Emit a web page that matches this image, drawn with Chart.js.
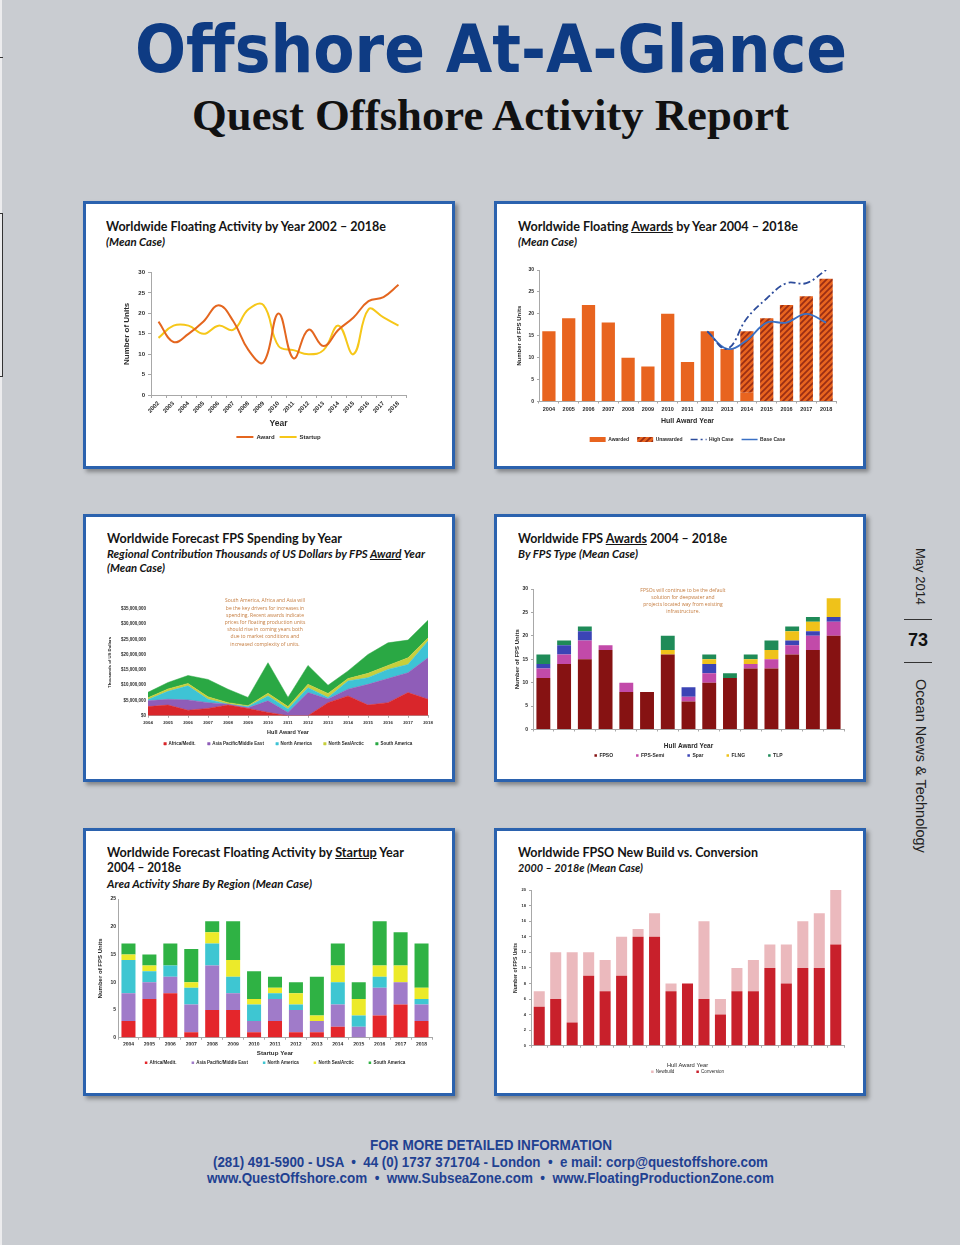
<!DOCTYPE html>
<html>
<head>
<meta charset="utf-8">
<title>Offshore At-A-Glance</title>
<script src="https://cdn.jsdelivr.net/npm/chart.js@4.4.1/dist/chart.umd.min.js"></script>
<style>
  html, body { margin: 0; padding: 0; }
  body { width: 960px; height: 1245px; position: relative; overflow: hidden; background: #c9ccd1; font-family: "Liberation Sans", Arial, sans-serif; }
  .t { position: absolute; white-space: nowrap; line-height: 1; transform-origin: 0 0; }
  .panel { position: absolute; width: 366px; height: 262px; background: #fff; border: 3px solid #2b62ae; box-shadow: 3px 3px 4px rgba(0, 0, 0, 0.35); }
  .ptitle { font-family: Lato, sans-serif; font-weight: 700; font-size: 13.5px; color: #141414; }
  .psub { font-family: Lato, sans-serif; font-weight: 700; font-style: italic; font-size: 11.5px; color: #141414; }
  .chart { position: absolute; }
  .note { position: absolute; font-family: "Open Sans", sans-serif; font-size: 5px; line-height: 7.2px; color: #c47b3d; text-align: center; white-space: nowrap; transform: translateX(-50%); }
  .foot { font-family: "Liberation Sans Narrow", "Liberation Sans", sans-serif; font-weight: bold; color: #1f4191; font-size: 14px; }
  .side { position: absolute; writing-mode: vertical-rl; white-space: nowrap; color: #222; }
  .rule { position: absolute; height: 1px; background: #333; }
</style>
</head>
<body>

<div style="position:absolute;left:0;top:0;width:2px;height:1245px;background:#ececee"></div>
<div style="position:absolute;left:0;top:57px;width:3px;height:1px;background:#333"></div>
<div style="position:absolute;left:0;top:213px;width:2px;height:162px;border:1px solid #333;border-left:none"></div>

<div class="t" data-w="712" style="left:135px;top:17px;font-family:'DejaVu Sans Condensed','DejaVu Sans',sans-serif;font-weight:bold;font-size:66px;color:#0e3b83">Offshore At-A-Glance</div>
<div class="t" data-w="597" style="left:192px;top:94px;font-family:'Liberation Serif',serif;font-weight:bold;font-size:44px;color:#111">Quest Offshore Activity Report</div>

<div class="panel" style="left:83px;top:201px"></div>
<div class="panel" style="left:494px;top:201px"></div>
<div class="panel" style="left:83px;top:514px"></div>
<div class="panel" style="left:494px;top:514px"></div>
<div class="panel" style="left:83px;top:828px"></div>
<div class="panel" style="left:494px;top:828px"></div>

<div class="t ptitle" data-w="280" style="left:106px;top:220px">Worldwide Floating Activity by Year 2002 – 2018e</div>
<div class="t psub" data-w="59" style="left:106px;top:235.5px">(Mean Case)</div>

<div class="t ptitle" data-w="280" style="left:518px;top:220px">Worldwide Floating <u>Awards</u> by Year 2004 – 2018e</div>
<div class="t psub" data-w="59" style="left:518px;top:235.5px">(Mean Case)</div>

<div class="t ptitle" data-w="235" style="left:107px;top:532.3px">Worldwide Forecast FPS Spending by Year</div>
<div class="t psub" data-w="318" style="left:107px;top:547.5px">Regional Contribution Thousands of US Dollars by FPS <u>Award</u> Year</div>
<div class="t psub" data-w="58" style="left:107px;top:561.8px">(Mean Case)</div>

<div class="t ptitle" data-w="209" style="left:518px;top:532.3px">Worldwide FPS <u>Awards</u> 2004 – 2018e</div>
<div class="t psub" data-w="120" style="left:518px;top:547.5px">By FPS Type (Mean Case)</div>

<div class="t ptitle" data-w="297" style="left:107px;top:846.3px">Worldwide Forecast Floating Activity by <u>Startup</u> Year</div>
<div class="t ptitle" data-w="74" style="left:107px;top:861.3px">2004 – 2018e</div>
<div class="t psub" data-w="205" style="left:107px;top:878.1px">Area Activity Share By Region (Mean Case)</div>

<div class="t ptitle" data-w="240" style="left:518px;top:846.3px">Worldwide FPSO New Build vs. Conversion</div>
<div class="t psub" data-w="125" style="left:518px;top:861.5px">2000 – 2018e (Mean Case)</div>

<div class="chart" style="left:112px;top:266px;width:335px;height:184px"><canvas id="floatingActivity"></canvas></div>
<div class="chart" style="left:508px;top:262px;width:346px;height:190px"><canvas id="floatingAwards"></canvas></div>
<div class="chart" style="left:100px;top:598px;width:340px;height:158px"><canvas id="fpsSpending"></canvas></div>
<div class="chart" style="left:505px;top:582px;width:352px;height:186px"><canvas id="fpsByType"></canvas></div>
<div class="chart" style="left:88px;top:892px;width:356px;height:183px"><canvas id="startupByRegion"></canvas></div>
<div class="chart" style="left:505px;top:883px;width:352px;height:201px"><canvas id="fpsoBuild"></canvas></div>

<div class="note" style="left:265px;top:597.4px">South America, Africa and Asia will<br>be the key drivers for increases in<br>spending. Recent awards indicate<br>prices for floating production units<br>should rise in coming years both<br>due to market conditions and<br>increased complexity of units.</div>
<div class="note" style="left:683px;top:586.5px">FPSOs will continue to be the default<br>solution for deepwater and<br>projects located way from existing<br>infrastructure.</div>

<div class="side" style="left:913px;top:548px;font-size:13px;line-height:14px">May 2014</div>
<div class="rule" style="left:904px;top:619px;width:28px"></div>
<div class="t" style="left:908px;top:631px;font-size:18px;font-weight:bold;color:#111">73</div>
<div class="rule" style="left:904px;top:662px;width:28px"></div>
<div class="side" style="left:912.5px;top:679px;font-size:14.5px;line-height:15px">Ocean News &amp; Technology</div>

<div class="t foot" data-w="242" style="left:370px;top:1138.2px">FOR MORE DETAILED INFORMATION</div>
<div class="t foot" data-w="555" style="left:213px;top:1155.2px">(281) 491-5900 - USA &nbsp;•&nbsp; 44 (0) 1737 371704 - London &nbsp;•&nbsp; e mail: corp@questoffshore.com</div>
<div class="t foot" data-w="567" style="left:207px;top:1171.2px">www.QuestOffshore.com &nbsp;•&nbsp; www.SubseaZone.com &nbsp;•&nbsp; www.FloatingProductionZone.com</div>

<script>
// floating activity 2002-2018e
const activityYears = ["2002", "2003", "2004", "2005", "2006", "2007", "2008", "2009", "2010", "2011", "2012", "2013", "2014", "2015", "2016", "2017", "2018"];
const awardUnits = [18, 13, 15, 18, 22, 18, 11, 8, 20, 9, 16, 12, 16, 19, 23, 24, 27];
const startupUnits = [14, 17, 17, 15, 17, 16, 21, 22, 12, 11, 10, 11, 17, 10, 21, 19, 17];

// awards 2004-2018e
const awardYears = ["2004", "2005", "2006", "2007", "2008", "2009", "2010", "2011", "2012", "2013", "2014", "2015", "2016", "2017", "2018"];
const awardedUnits = [16, 19, 22, 18, 10, 8, 20, 9, 16, 12, 2, null, null, null, null];
const unawardedUnits = [null, null, null, null, null, null, null, null, null, null, 14, 19, 22, 24, 28];
const highCaseUnits = [null, null, null, null, null, null, null, null, 16, 12, 19, 23.5, 27, 27, 30];
const baseCaseUnits = [null, null, null, null, null, null, null, null, 16, 12, 14, 18, 18, 20, 18];

// spending, millions of (thousands of US$)
const spendAfrica = [3.0, 3.5, 1.8, 2.4, 3.5, 2.4, 1.1, 0, 0, 4.3, 6.5, 3.5, 4.3, 7.6, 5.4];
const spendAsia = [1.9, 1.9, 3.4, 1.9, 0.3, 0.2, 3.8, 1.1, 7.6, 1.2, 2.2, 6.8, 7.9, 6.5, 13.6];
const spendNorthAm = [0.4, 2.6, 4.6, 1.1, 0, 0.4, 1.6, 1.1, 1.6, 0.5, 2.7, 2.2, 3.0, 2.7, 5.5];
const spendNorthSea = [0.6, 0.8, 0.8, 0.8, 0.5, 0.3, 0.9, 0.8, 1.1, 1.3, 0.8, 1.4, 1.3, 2.2, 1.0];
const spendSouthAm = [1.8, 2.1, 2.6, 5.7, 4.4, 2.7, 10.0, 3.0, 6.2, 2.7, 2.5, 6.2, 7.4, 5.8, 5.8];

// awards by FPS type
const fpsoUnits = [11, 14, 15, 17, 8, 8, 16, 6, 10, 11, 13, 13, 16, 17, 20];
const semiUnits = [2, 2, 4, 1, 2, 0, 0, 1, 2, 0, 1, 2, 2, 3, 3];
const sparUnits = [1, 2, 2, 0, 0, 0, 0, 2, 2, 0, 0, 0, 1, 1, 1];
const flngUnits = [0, 0, 0, 0, 0, 0, 1, 0, 1, 0, 1, 2, 2, 2, 4];
const tlpUnits = [2, 1, 1, 0, 0, 0, 3, 0, 1, 1, 1, 2, 1, 1, 0];

// startups by region
const startAfrica = [3, 7, 8, 1, 5, 5, 1, 3, 1, 1, 2, 0, 4, 6, 3];
const startAsia = [5, 3, 3, 5, 8, 3, 2, 4, 4, 2, 4, 2, 5, 4, 3];
const startNorthAm = [6, 2, 2, 3, 4, 3, 3, 1, 1, 0, 4, 2, 2, 0, 1];
const startNorthSea = [1, 1, 0, 1, 2, 3, 1, 1, 2, 1, 3, 3, 2, 3, 2];
const startSouthAm = [2, 2, 4, 6, 2, 7, 5, 2, 2, 7, 4, 3, 8, 6, 8];

// FPSO new build vs conversion
const fpsoYears = ["2000", "2001", "2002", "2003", "2004", "2005", "2006", "2007", "2008", "2009", "2010", "2011", "2012", "2013", "2014", "2015", "2016", "2017", "2018"];
const conversionUnits = [5, 6, 3, 9, 7, 9, 14, 14, 7, 8, 6, 4, 7, 7, 10, 8, 10, 10, 13];
const newbuildUnits = [2, 6, 9, 3, 4, 5, 1, 3, 1, 0, 10, 2, 3, 4, 3, 5, 6, 7, 7];

const REGIONS = ["Africa/Medit.", "Asia Pacific/Middle East", "North America", "North Sea/Arctic", "South America"];
const AXIS_COLOR = "#a8a8a8";

Chart.defaults.font.family = '"Liberation Sans", Arial, sans-serif';
Chart.defaults.font.weight = "bold";
Chart.defaults.color = "#2a2a2a";
Chart.defaults.animation = false;
Chart.defaults.plugins.tooltip.enabled = false;
Chart.defaults.maintainAspectRatio = false;

function yAxis(o) {
  const ticks = { stepSize: o.step, font: { size: o.size }, padding: o.pad ?? 3 };
  if (o.callback) ticks.callback = o.callback;
  return {
    stacked: o.stacked || false,
    min: 0,
    max: o.max,
    ticks,
    grid: { drawOnChartArea: false, tickLength: o.tickLength ?? 2, color: AXIS_COLOR },
    border: { color: AXIS_COLOR, display: o.line !== false },
    title: { display: true, text: o.title, font: { size: o.titleSize, weight: o.weight || "bold" }, padding: { top: o.titleGap, bottom: 0 } },
    afterFit: (scale) => { scale.width = o.width; },
  };
}

function xAxis(o) {
  return {
    stacked: o.stacked || false,
    offset: o.offset ?? true,
    ticks: { font: { size: o.size, weight: o.weight || "bold" }, padding: o.pad ?? 2, autoSkip: false, minRotation: o.rotation || 0, maxRotation: o.rotation || 0 },
    grid: { drawOnChartArea: false, offset: o.offset ?? true, tickLength: o.tickLength ?? 2, color: AXIS_COLOR },
    border: { color: AXIS_COLOR },
    title: { display: true, text: o.title, font: { size: o.titleSize, weight: o.weight || "bold" }, padding: { top: 0, bottom: o.titleGap } },
    afterFit: (scale) => { scale.height = o.height; },
  };
}

function legendBox(o) {
  return {
    position: "bottom",
    fullSize: false,
    reverse: o.reverse || false,
    labels: Object.assign({
      font: { size: o.size, weight: o.weight || "bold" },
      padding: o.pad,
      boxWidth: o.box,
      boxHeight: o.box,
      color: "#2a2a2a",
    }, o.extra || {}),
  };
}

function makeHatch(base, stripe) {
  const c = document.createElement("canvas");
  c.width = 6;
  c.height = 6;
  const g = c.getContext("2d");
  g.fillStyle = base;
  g.fillRect(0, 0, 6, 6);
  g.strokeStyle = stripe;
  g.lineWidth = 1.7;
  g.beginPath();
  g.moveTo(-1, 7); g.lineTo(7, -1);
  g.moveTo(-4, 4); g.lineTo(4, -4);
  g.moveTo(2, 10); g.lineTo(10, 2);
  g.stroke();
  return g.createPattern(c, "repeat");
}

function barSet(label, data, color) {
  return { label, data, backgroundColor: color, borderWidth: 0, categoryPercentage: 1, barPercentage: 0.67 };
}

function areaSet(label, data, color, first) {
  return {
    label,
    data: data.map((v) => v * 1e6),
    backgroundColor: color,
    borderColor: color,
    borderWidth: 0.5,
    pointRadius: 0,
    tension: 0,
    fill: first ? "origin" : "-1",
  };
}

// 1. Worldwide Floating Activity by Year
new Chart(document.getElementById("floatingActivity"), {
  type: "line",
  data: {
    labels: activityYears,
    datasets: [
      { label: "Award", data: awardUnits, borderColor: "#e4661f", backgroundColor: "#e4661f", borderWidth: 2, tension: 0.42, pointRadius: 0, pointStyle: "line" },
      { label: "Startup", data: startupUnits, borderColor: "#f6c719", backgroundColor: "#f6c719", borderWidth: 2, tension: 0.42, pointRadius: 0, pointStyle: "line" },
    ],
  },
  options: {
    layout: { padding: { top: 6, right: 41 } },
    scales: {
      x: xAxis({ height: 34, size: 6, title: "Year", titleSize: 8.5, titleGap: 0, rotation: 45, tickLength: 3 }),
      y: yAxis({ max: 30, step: 5, width: 39, size: 6, title: "Number of Units", titleSize: 8, titleGap: 10.2, tickLength: 3 }),
    },
    plugins: { legend: legendBox({ size: 6, pad: 5, box: 6, extra: { usePointStyle: true, pointStyleWidth: 17 } }) },
  },
});

// 2. Worldwide Floating Awards by Year
const hatch = makeHatch("#e8641f", "#9a2e14");
new Chart(document.getElementById("floatingAwards"), {
  type: "bar",
  data: {
    labels: awardYears,
    datasets: [
      Object.assign(barSet("Awarded", awardedUnits, "#e8641f"), { stack: "fps", order: 1 }),
      Object.assign(barSet("Unawarded", unawardedUnits, hatch), { stack: "fps", order: 1 }),
      { type: "line", label: "High Case", data: highCaseUnits, borderColor: "#2d4c9b", backgroundColor: "#2d4c9b", borderDash: [7, 3, 2, 3], borderWidth: 1.8, tension: 0.4, pointRadius: 0, stack: "high", order: 0 },
      { type: "line", label: "Base Case", data: baseCaseUnits, borderColor: "#3a70c4", backgroundColor: "#3a70c4", borderWidth: 1.8, tension: 0.4, pointRadius: 0, stack: "base", order: 0 },
    ],
  },
  options: {
    layout: { padding: { top: 8, right: 18 } },
    scales: {
      x: xAxis({ stacked: true, height: 27.5, size: 5.5, title: "Hull Award Year", titleSize: 7, titleGap: 3.3, pad: 3 }),
      y: yAxis({ stacked: true, max: 30, step: 5, width: 31, size: 5, title: "Number of FPS Units", titleSize: 6, titleGap: 7.4 }),
    },
    plugins: {
      legend: legendBox({
        size: 5, pad: 8, box: 5,
        extra: {
          usePointStyle: true,
          pointStyleWidth: 16,
          generateLabels: (chart) => chart.data.datasets.map((ds, i) => ({
            text: ds.label,
            datasetIndex: i,
            fillStyle: ds.type === "line" ? "rgba(0,0,0,0)" : ds.backgroundColor,
            strokeStyle: ds.type === "line" ? ds.borderColor : "rgba(0,0,0,0)",
            lineWidth: ds.type === "line" ? 1.5 : 0,
            lineDash: ds.borderDash || [],
            pointStyle: ds.type === "line" ? "line" : "rect",
            fontColor: "#2a2a2a",
            hidden: false,
          })),
        },
      }),
    },
  },
});

// 3. Worldwide Forecast FPS Spending by Year
new Chart(document.getElementById("fpsSpending"), {
  type: "line",
  data: {
    labels: awardYears,
    datasets: [
      areaSet(REGIONS[0], spendAfrica, "#d9262b", true),
      areaSet(REGIONS[1], spendAsia, "#8f5db8"),
      areaSet(REGIONS[2], spendNorthAm, "#3ec3d5"),
      areaSet(REGIONS[3], spendNorthSea, "#c7cf3c"),
      areaSet(REGIONS[4], spendSouthAm, "#2aa844"),
    ],
  },
  options: {
    layout: { padding: { top: 11, right: 12 } },
    scales: {
      x: xAxis({ offset: false, height: 13.75, size: 4.3, title: "Hull Award Year", titleSize: 5.5, titleGap: -6.55, pad: 2 }),
      y: yAxis({ stacked: true, max: 35e6, step: 5e6, width: 48, size: 4.5, title: "Thousands of US Dollars", titleSize: 4.3, titleGap: 7.4, tickLength: 0, pad: 2, line: false, callback: (v) => "$" + v.toLocaleString("en-US") }),
    },
    plugins: { legend: legendBox({ size: 4.5, pad: 12, box: 2.5 }) },
  },
});

// 4. Worldwide FPS Awards by FPS Type
new Chart(document.getElementById("fpsByType"), {
  type: "bar",
  data: {
    labels: awardYears,
    datasets: [
      barSet("FPSO", fpsoUnits, "#861212"),
      barSet("FPS-Semi", semiUnits, "#c24aa9"),
      barSet("Spar", sparUnits, "#3b44b5"),
      barSet("FLNG", flngUnits, "#efc21a"),
      barSet("TLP", tlpUnits, "#1f8b58"),
    ],
  },
  options: {
    layout: { padding: { top: 7, right: 13 } },
    scales: {
      x: xAxis({ stacked: true, height: 0.5, size: 5.5, title: "Hull Award Year", titleSize: 6.5, titleGap: -20.4, pad: 2 }),
      y: yAxis({ stacked: true, max: 30, step: 5, width: 28, size: 5, title: "Number of FPS Units", titleSize: 6, titleGap: 8.4 }),
    },
    plugins: { legend: legendBox({ size: 5, pad: 23, box: 2.5 }) },
  },
});

// 5. Worldwide Forecast Floating Activity by Startup Year
new Chart(document.getElementById("startupByRegion"), {
  type: "bar",
  data: {
    labels: awardYears,
    datasets: [
      barSet(REGIONS[0], startAfrica, "#e4262b"),
      barSet(REGIONS[1], startAsia, "#a07bc9"),
      barSet(REGIONS[2], startNorthAm, "#3ec6d2"),
      barSet(REGIONS[3], startNorthSea, "#ecea2a"),
      barSet(REGIONS[4], startSouthAm, "#2fb244"),
    ],
  },
  options: {
    layout: { padding: { top: 7, right: 12 } },
    scales: {
      x: xAxis({ stacked: true, height: 7.75, size: 5, title: "Startup Year", titleSize: 6.2, titleGap: -11.15, pad: 2 }),
      y: yAxis({ stacked: true, max: 25, step: 5, width: 30, size: 5, title: "Number of FPS Units", titleSize: 6, titleGap: 8.4, tickLength: 0, pad: 2 }),
    },
    plugins: { legend: legendBox({ size: 4.5, pad: 15, box: 2.5 }) },
  },
});

// 6. Worldwide FPSO New Build vs. Conversion
new Chart(document.getElementById("fpsoBuild"), {
  type: "bar",
  data: {
    labels: fpsoYears,
    datasets: [
      barSet("Conversion", conversionUnits, "#c8202b"),
      barSet("Newbuild", newbuildUnits, "#ebb9bd"),
    ],
  },
  options: {
    layout: { padding: { top: 7, right: 13 } },
    scales: {
      x: xAxis({ stacked: true, height: 1.75, size: 4.5, title: "Hull Award Year", titleSize: 5.8, titleGap: -21.5, pad: 1, weight: "normal" }),
      y: yAxis({ stacked: true, max: 20, step: 2, width: 26, size: 4, title: "Number of FPS Units", titleSize: 5, titleGap: 8 }),
    },
    plugins: { legend: legendBox({ size: 4.5, pad: 22, box: 2.5, weight: "normal", reverse: true }) },
  },
});

function fitText() {
  document.querySelectorAll("[data-w]").forEach((el) => {
    el.style.transform = "none";
    const w = el.getBoundingClientRect().width;
    if (w > 0) el.style.transform = `scaleX(${el.dataset.w / w})`;
  });
}
fitText();
document.fonts.ready.then(fitText);
</script>
</body>
</html>
